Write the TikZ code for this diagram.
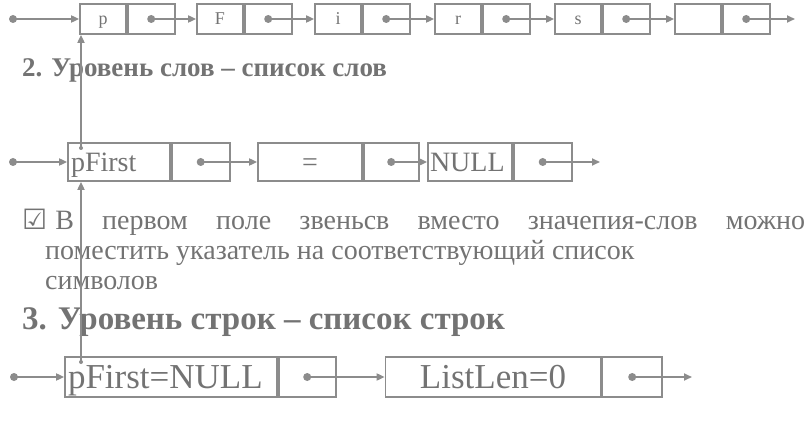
\documentclass[tikz,border=0pt]{standalone}
\usepackage{fontspec}
\setmainfont{Liberation Serif}
\newfontfamily\symfont{DejaVu Sans}
\usetikzlibrary{arrows.meta,positioning}
\definecolor{linegray}{gray}{0.55}
\definecolor{textgray}{gray}{0.45}
\tikzset{
	cell/.style={draw=linegray, line width=1.7pt, inner sep=0pt, text=textgray},
	chrcell/.style={cell, minimum width=46pt, minimum height=30pt, text height=14pt, text depth=2pt, font=\fontsize{18}{18}\selectfont},
	wordcell/.style={cell, minimum height=38pt, text height=21pt, text depth=2.5pt, font=\fontsize{28}{28}\selectfont},
	linecell/.style={cell, minimum height=40pt, text height=26pt, text depth=3pt, font=\fontsize{35}{35}\selectfont},
	lefttext/.style={align=left, text width=#1},
	ptrdot/.style={circle, fill=linegray, inner sep=0pt, minimum size=8pt},
	tinydot/.style={circle, fill=linegray, inner sep=0pt, minimum size=4pt},
	link/.style={draw=linegray, line width=1.7pt, -{Triangle[length=8pt,width=7pt]}},
	headtext/.style={anchor=west, inner sep=0pt, text=textgray, font=\bfseries\fontsize{27}{27}\selectfont},
	bodytext/.style={anchor=west, inner sep=0pt, text=textgray, font=\fontsize{28}{28}\selectfont}
}
\begin{document}
\begin{tikzpicture}[x=1pt, y=-1pt]
	\useasboundingbox (0,0) rectangle (810,446);

	\node[chrcell] (ch1) at (103,19) {p};
	\node[chrcell, minimum width=47pt, right=0pt of ch1] (ch1p) {};
	\node[chrcell] (ch2) at (220,19) {F};
	\node[chrcell, minimum width=47pt, right=0pt of ch2] (ch2p) {};
	\node[chrcell] (ch3) at (338,19) {i};
	\node[chrcell, minimum width=47pt, right=0pt of ch3] (ch3p) {};
	\node[chrcell] (ch4) at (458,19) {r};
	\node[chrcell, minimum width=47pt, right=0pt of ch4] (ch4p) {};
	\node[chrcell] (ch5) at (578,19) {s};
	\node[chrcell, minimum width=47pt, right=0pt of ch5] (ch5p) {};
	\node[chrcell] (ch6) at (698,19) {};
	\node[chrcell, minimum width=47pt, right=0pt of ch6] (ch6p) {};

	\node[ptrdot] (ch0d) at (13,19) {};
	\node[ptrdot] (ch1d) at (ch1p) {};
	\node[ptrdot] (ch2d) at (ch2p) {};
	\node[ptrdot] (ch3d) at (ch3p) {};
	\node[ptrdot] (ch4d) at (ch4p) {};
	\node[ptrdot] (ch5d) at (ch5p) {};
	\node[ptrdot] (ch6d) at (ch6p) {};
	\coordinate (ch7) at (795,19);

	\draw[link] (ch0d.center) -- (ch1.west);
	\draw[link] (ch1d.center) -- (ch2.west);
	\draw[link] (ch2d.center) -- (ch3.west);
	\draw[link] (ch3d.center) -- (ch4.west);
	\draw[link] (ch4d.center) -- (ch5.west);
	\draw[link] (ch5d.center) -- (ch6.west);
	\draw[link] (ch6d.center) -- (ch7);

	\node[headtext] (h2) at (22,70) {2. Уровень слов – список слов};

	\node[wordcell, minimum width=102pt, lefttext=96pt] (wd1) at (119,162) {pFirst};
	\node[wordcell, minimum width=58pt, right=0pt of wd1] (wd1p) {};
	\node[wordcell, minimum width=104pt] (wd2) at (310,162) {=};
	\node[wordcell, minimum width=55pt, right=0pt of wd2] (wd2p) {};
	\node[wordcell, minimum width=84pt, lefttext=80pt] (wd3) at (470,162) {NULL};
	\node[wordcell, minimum width=58pt, right=0pt of wd3] (wd3p) {};

	\node[ptrdot] (wd0d) at (13,162) {};
	\node[ptrdot] (wd1d) at (wd1p) {};
	\node[ptrdot] (wd2d) at (wd2p) {};
	\node[ptrdot] (wd3d) at (wd3p) {};
	\coordinate (wd4) at (600,162);

	\draw[link] (wd0d.center) -- (wd1.west);
	\draw[link] (wd1d.center) -- (wd2.west);
	\draw[link] (wd2d.center) -- (wd3.west);
	\draw[link] (wd3d.center) -- (wd4);

	\node[bodytext] (b1) at (22,222) {\makebox[783pt][s]{{\symfont ☑}\kern8pt В первом поле звеньсв вместо значепия-слов можно}};
	\node[bodytext] (b2) at (45,253) {поместить указатель на соответствующий список};
	\node[bodytext] (b3) at (45,283) {символов};
	\node[headtext, font=\bfseries\fontsize{33}{33}\selectfont] (h3) at (22,322) {3. Уровень строк – список строк};

	\node[linecell, minimum width=212pt, lefttext=206pt] (ln1) at (171,377) {pFirst=NULL};
	\node[linecell, minimum width=57pt, right=0pt of ln1] (ln1p) {};
	\node[linecell, minimum width=215pt] (ln2) at (493,377) {ListLen=0};
	\node[linecell, minimum width=60pt, right=0pt of ln2] (ln2p) {};

	\node[ptrdot] (ln0d) at (14,377) {};
	\node[ptrdot] (ln1d) at (ln1p) {};
	\node[ptrdot] (ln2d) at (ln2p) {};
	\coordinate (ln3) at (692,377);

	\draw[link] (ln0d.center) -- (ln1.west);
	\draw[link] (ln1d.center) -- (ln2.west);
	\draw[link] (ln2d.center) -- (ln3);

	\node[tinydot] (wd1s) at (81,148) {};
	\node[tinydot] (ln1s) at (81,362) {};
	\draw[link] (wd1s.center) -- (wd1s |- ch1.south);
	\draw[link] (ln1s.center) -- (ln1s |- wd1.south);
\end{tikzpicture}
\end{document}
